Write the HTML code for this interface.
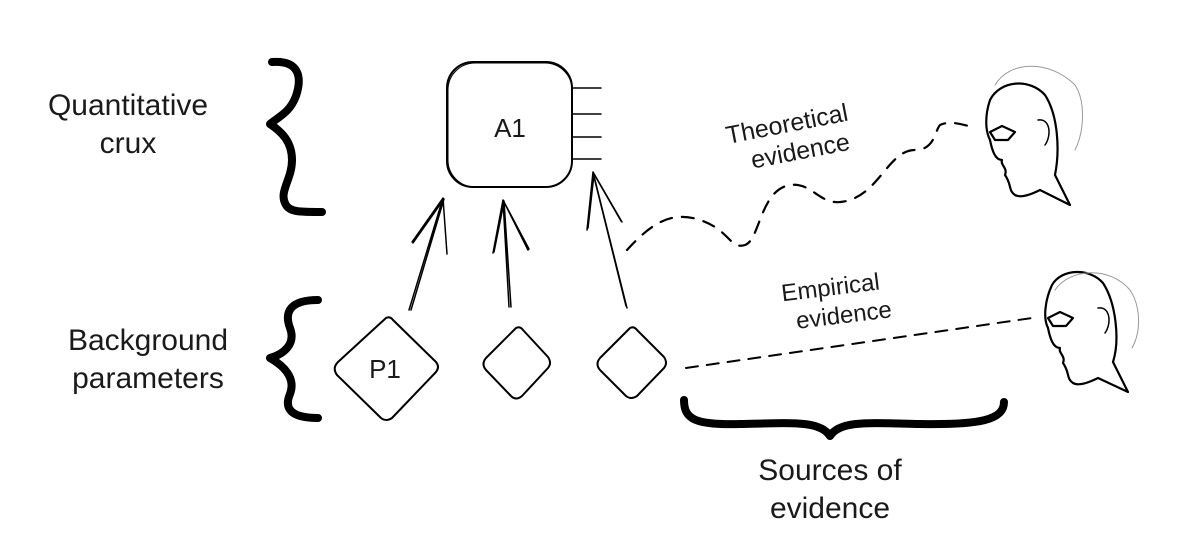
<!DOCTYPE html>
<html><head><style>
html,body{margin:0;padding:0;background:#fff;}
svg{display:block;}
text{font-family:"Liberation Sans",Arial,sans-serif;fill:#1a1a1a;}
</style></head><body>
<svg width="1179" height="559" viewBox="0 0 1179 559" xmlns="http://www.w3.org/2000/svg">
<g fill="none" stroke="#000" stroke-linecap="round" stroke-linejoin="round">
<path d="M272,62 C300,60 302,78 296,96 C290,112 280,116 270,124 C282,132 292,142 292,160 C292,180 278,192 286,205 C290,212 300,212 322,212" stroke-width="8"/>
<path d="M318,300 C290,300 284,312 290,328 C296,344 284,354 270,358 C284,366 296,378 290,394 C284,408 290,418 318,418" stroke-width="8"/>
<path d="M684,400 C684,420 696,425 740,424 C790,423 820,420 830,436 C840,420 870,423 920,424 C980,425 1004,420 1004,402" stroke-width="8"/>
<rect x="447" y="62" width="125" height="125" rx="26" stroke-width="2"/>
<rect x="448" y="63" width="124" height="124" rx="27" stroke-width="1"/>
<path d="M572,88H601M572,114H601M572,137H601M572,159H601" stroke-width="1.5"/>
<path d="M409,310L443,198M411,310L444,199M412,242L443,198L447,254M413,243L444,199" stroke-width="1.5"/>
<path d="M509,307L503,200M511,307L504,201M493,253L503,200L528,250M494,252L504,202L529,249" stroke-width="1.5"/>
<path d="M627,308L593,172M626,306L593,173M587,230L593,172L622,222M588,228L594,174L621,221" stroke-width="1.5"/>
<path d="M386,318 Q390,316 393,320 L436,362 Q440,367 436,372 L392,418 Q386,422 381,418 L337,375 Q332,368 338,362 Z" stroke-width="2"/>
<path d="M516,328 Q520,326 523,330 L548,357 Q552,363 548,368 L522,396 Q516,401 511,396 L486,370 Q481,364 486,358 Z" stroke-width="2"/>
<path d="M630,328 Q634,326 637,330 L664,357 Q668,363 664,368 L637,396 Q631,400 626,396 L600,370 Q595,364 600,358 Z" stroke-width="2"/>
<path d="M627,250 C650,225 670,210 700,220 C730,230 730,250 745,245 C760,240 760,190 790,185 C815,182 820,210 850,200 C880,190 890,150 915,150 C935,150 935,130 940,125 C950,120 965,125 975,128" stroke-width="2.2" stroke-dasharray="12,10"/>
<path d="M686,368 L1032,318" stroke-width="2" stroke-dasharray="12,9"/>
<g stroke-width="2.2">
<path d="M990,100 C1000,80 1030,78 1045,95 C1058,115 1060,150 1055,175 L1070,205 L1040,190 C1030,195 1020,198 1015,195 C1008,190 1012,185 1005,175 C1008,168 1000,165 1002,160 C995,160 992,150 990,140 C985,130 985,115 990,100Z"/>
<path d="M990,132 L1002,126 L1015,132 L1008,140 L995,140Z"/>
<path d="M1038,120 C1050,118 1052,135 1045,145" stroke-width="1.5"/>
<path d="M1052,285 C1062,268 1090,268 1103,283 C1116,303 1120,340 1113,362 L1128,392 L1098,378 C1088,383 1078,386 1073,383 C1066,378 1070,373 1063,363 C1066,356 1058,353 1060,348 C1053,348 1050,338 1048,328 C1043,318 1045,300 1052,285Z"/>
<path d="M1048,318 L1060,312 L1073,318 L1066,326 L1053,326Z"/>
<path d="M1098,308 C1110,306 1112,323 1105,333" stroke-width="1.5"/>
</g>
<g stroke="#999" stroke-width="1">
<path d="M995,85 C1010,60 1050,60 1075,85 C1085,100 1085,130 1075,150"/>
<path d="M1055,290 C1070,268 1110,266 1130,290 C1140,305 1142,330 1132,348"/>
</g>
</g>
<text x="128" y="115" font-size="30" text-anchor="middle">Quantitative</text>
<text x="128" y="153" font-size="30" text-anchor="middle">crux</text>
<text x="148" y="350" font-size="30" text-anchor="middle">Background</text>
<text x="148" y="388" font-size="30" text-anchor="middle">parameters</text>
<text x="510" y="137" font-size="26" text-anchor="middle">A1</text>
<text x="385" y="378" font-size="26" text-anchor="middle">P1</text>
<text x="830" y="480" font-size="30" text-anchor="middle">Sources of</text>
<text x="830" y="518" font-size="30" text-anchor="middle">evidence</text>
<g transform="rotate(-11 790 140)">
<text x="790" y="132" font-size="25" text-anchor="middle">Theoretical</text>
<text x="798" y="161" font-size="25" text-anchor="middle">evidence</text>
</g>
<g transform="rotate(-7 835 300)">
<text x="832" y="295" font-size="24" text-anchor="middle">Empirical</text>
<text x="842" y="324" font-size="24" text-anchor="middle">evidence</text>
</g>
</svg>
</body></html>
